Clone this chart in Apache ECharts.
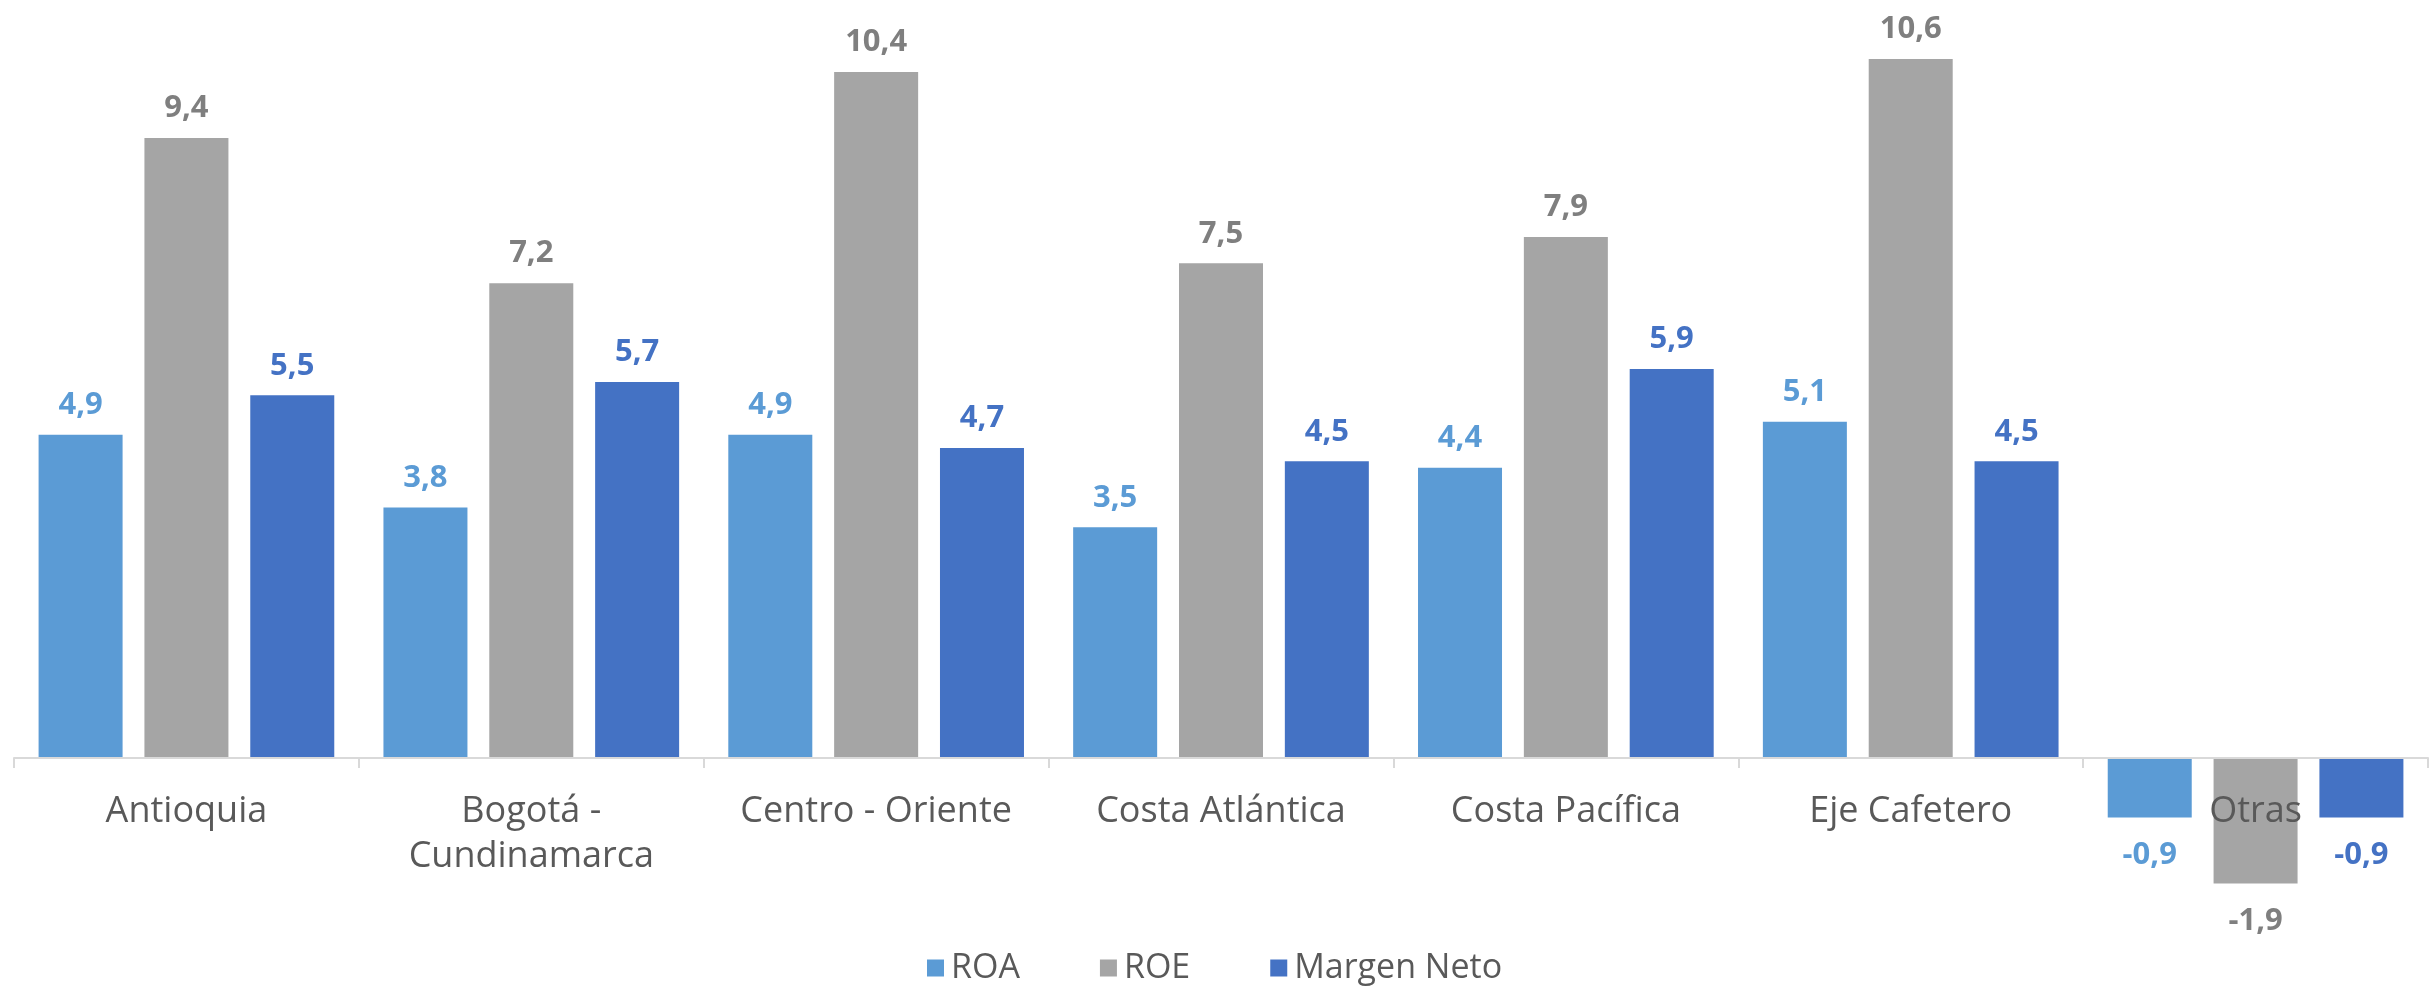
<!DOCTYPE html>
<html>
<head>
<meta charset="utf-8">
<script src="https://cdn.jsdelivr.net/npm/echarts@6/dist/echarts.min.js"></script>
<style>
html,body{margin:0;padding:0;background:#fff;}
#chart{width:2436px;height:990px;}
</style>
</head>
<body>
<div id="chart"></div>
<script>
const categories = ['Antioquia', 'Bogotá -\nCundinamarca', 'Centro - Oriente', 'Costa Atlántica', 'Costa Pacífica', 'Eje Cafetero', 'Otras'];
const roa = [4.9, 3.8, 4.9, 3.5, 4.4, 5.1, -0.9];
const roe = [9.4, 7.2, 10.4, 7.5, 7.9, 10.6, -1.9];
const margenNeto = [5.5, 5.7, 4.7, 4.5, 5.9, 4.5, -0.9];

const FONT = '"Open Sans", sans-serif';
const fmt = v => v.toFixed(1).replace('.', ',');

function makeSeries(name, values, color, labelColor) {
  return {
    name: name,
    type: 'bar',
    xAxisIndex: 0,
    yAxisIndex: 0,
    data: values.map(v => v < 0 ? { value: v, label: { distance: 22 } } : v),
    barWidth: 84,
    barGap: '26%',
    itemStyle: { color: color },
    label: {
      show: true,
      position: 'outside',
      distance: 14,
      color: labelColor,
      fontFamily: FONT,
      fontSize: 31,
      fontWeight: 'bold',
      formatter: p => fmt(p.value)
    }
  };
}

const chart = echarts.init(document.getElementById('chart'));
chart.setOption({
  backgroundColor: '#ffffff',
  animation: false,
  grid: [
    { left: 14, right: 8, top: 32.5, bottom: 100, containLabel: false, outerBoundsMode: 'none' },
    { left: 14, right: 8, top: 32.5, bottom: 232, containLabel: false, outerBoundsMode: 'none' }
  ],
  legend: {
    left: 922,
    top: 946,
    itemWidth: 17,
    itemHeight: 17,
    itemGap: 80,
    icon: 'rect',
    textStyle: { fontFamily: FONT, fontSize: 34, color: '#595959', padding: [0, 0, 0, 2] },
    data: ['ROA', 'ROE', 'Margen Neto']
  },
  xAxis: [
    {
      type: 'category',
      gridIndex: 0,
      data: categories,
      show: false
    },
    {
      type: 'category',
      gridIndex: 1,
      data: categories,
      z: 5,
      axisLine: { onZero: false, lineStyle: { color: '#D9D9D9', width: 2 } },
      axisTick: { show: true, length: 10, lineStyle: { color: '#D9D9D9', width: 2 } },
      axisLabel: {
        interval: 0,
        margin: 31,
        fontFamily: FONT,
        fontSize: 36,
        lineHeight: 45,
        color: '#595959'
      }
    }
  ],
  yAxis: [
    { type: 'value', gridIndex: 0, min: -2, max: 11, show: false },
    { type: 'value', gridIndex: 1, min: 0, max: 11, show: false }
  ],
  series: [
    makeSeries('ROA', roa, '#5B9BD5', '#5B9BD5'),
    makeSeries('ROE', roe, '#A5A5A5', '#7F7F7F'),
    makeSeries('Margen Neto', margenNeto, '#4472C4', '#4472C4')
  ]
});
</script>
</body>
</html>
